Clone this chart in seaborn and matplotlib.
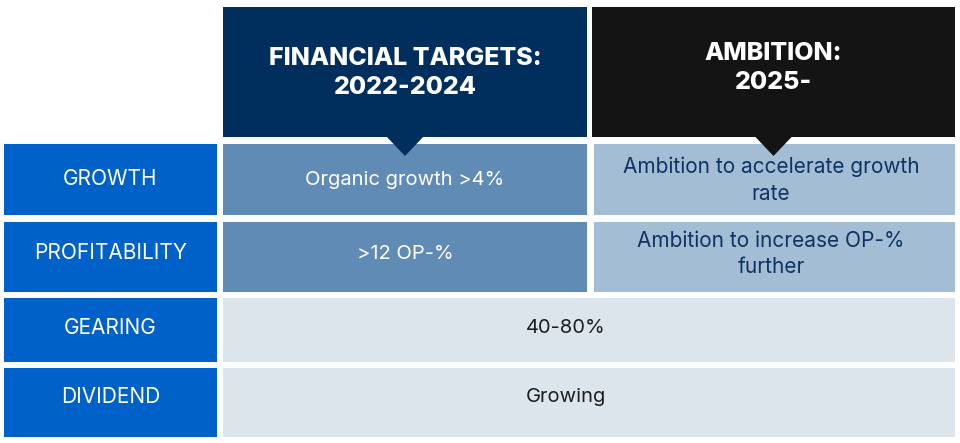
import matplotlib
matplotlib.use("Agg")
import matplotlib.pyplot as plt
import seaborn as sns
from matplotlib.patches import Rectangle, Polygon

# Donnees du tableau
row_labels = ["GROWTH", "PROFITABILITY", "GEARING", "DIVIDEND"]
header_texts = ["FINANCIAL TARGETS:\n2022-2024", "AMBITION:\n2025-"]
targets_2022_2024 = ["Organic growth >4%", ">12 OP-%"]
ambition_2025 = ["Ambition to accelerate growth\nrate", "Ambition to increase OP-%\nfurther"]
shared_values = ["40-80%", "Growing"]

sns.set_theme(style="white")
plt.rcParams['font.family'] = ['Inter', 'DejaVu Sans']

# Mise en page (pixels)
row_top = [144, 222, 298, 368]
row_bot = [215, 292, 362, 437]
text_y = [179, 253, 328, 397]
lab_x = (4, 217)
c1_x = (223, 587)
c2_x = (594, 955)
head_y = (7, 137)

C_LABEL = "#0061C8"
C_HEAD1 = "#002E5D"
C_HEAD2 = "#141414"
C_COL1 = "#608BB5"
C_COL2 = "#A2BDD4"
C_WIDE = "#DCE4EC"

fig = plt.figure(figsize=(9.6, 4.43), dpi=100)
ax = fig.add_axes([0, 0, 1, 1])
ax.set_xlim(0, 960)
ax.set_ylim(443, 0)
ax.axis("off")

def box(x0, x1, y0, y1, color):
    ax.add_patch(Rectangle((x0, y0), x1 - x0, y1 - y0, facecolor=color, edgecolor="none"))

# En-tetes
for (x0, x1), color, txt, ty in zip([c1_x, (592, 955)], [C_HEAD1, C_HEAD2], header_texts, [73, 68]):
    box(x0, x1, head_y[0], head_y[1], color)
    cx = (x0 + x1) / 2
    ax.add_patch(Polygon([(cx - 19, head_y[1] - 1), (cx + 19, head_y[1] - 1), (cx, head_y[1] + 19)],
                         closed=True, facecolor=color, edgecolor="none", zorder=3))
    ax.text(cx, ty, txt, ha="center", va="center", color="white", fontsize=18,
            fontweight="heavy", linespacing=1.35)

# Lignes
for i, lab in enumerate(row_labels):
    y0, y1 = row_top[i], row_bot[i]
    cy = text_y[i]
    box(lab_x[0], lab_x[1], y0, y1, C_LABEL)
    ax.text(sum(lab_x) / 2, cy, lab, ha="center", va="center", color="white", fontsize=15)
    if i < 2:
        box(c1_x[0], c1_x[1], y0, y1, C_COL1)
        box(c2_x[0], c2_x[1], y0, y1, C_COL2)
        ax.text(405, cy + 1, targets_2022_2024[i], ha="center", va="center", color="white", fontsize=14.5)
        ax.text(771, cy + 1, ambition_2025[i], ha="center", va="center", color="#0D3464",
                fontsize=15, linespacing=1.42)
    else:
        box(c1_x[0], c2_x[1], y0, y1, C_WIDE)
        ax.text(566, cy, shared_values[i - 2], ha="center", va="center", color="#1E1E1E", fontsize=14.5)

fig.savefig("out.png", dpi=100)
